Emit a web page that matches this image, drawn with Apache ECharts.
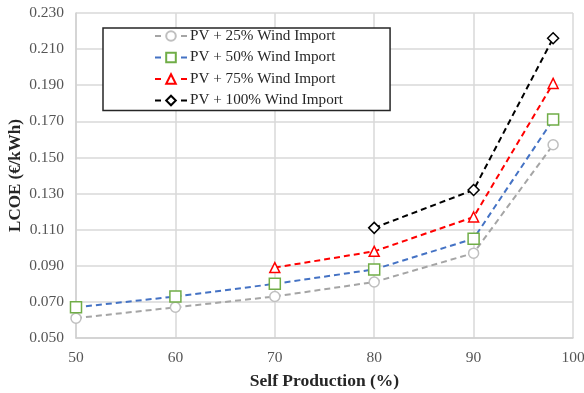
<!DOCTYPE html>
<html>
<head>
<meta charset="utf-8">
<script src="https://cdn.jsdelivr.net/npm/echarts@6/dist/echarts.min.js"></script>
<style>
  html, body { margin: 0; padding: 0; background: #fff; }
  #chart { width: 584px; height: 393px; }
</style>
</head>
<body>
<div id="chart"></div>
<script>
// Self production share (%) for each scenario
const xPV25 = [50, 60, 70, 80, 90, 98];
const xPV50 = [50, 60, 70, 80, 90, 98];
const xPV75 = [70, 80, 90, 98];
const xPV100 = [80, 90, 98];

// LCOE values (€/kWh)
const yPV25 = [0.061, 0.067, 0.073, 0.081, 0.097, 0.157];
const yPV50 = [0.067, 0.073, 0.080, 0.088, 0.105, 0.171];
const yPV75 = [0.089, 0.098, 0.117, 0.191];
const yPV100 = [0.111, 0.132, 0.216];

const seriesNames = [
  'PV + 25% Wind Import',
  'PV + 50% Wind Import',
  'PV + 75% Wind Import',
  'PV + 100% Wind Import'
];

const serif = '"Liberation Serif", "Times New Roman", serif';

function pairs(xs, ys) {
  return xs.map((x, i) => [x, ys[i]]);
}

function makeSeries(name, xs, ys, lineColor, markColor, symbol, size) {
  return {
    name: name,
    type: 'line',
    data: pairs(xs, ys),
    symbol: symbol,
    symbolSize: size,
    showAllSymbol: true,
    lineStyle: { color: lineColor, width: 2, type: [6, 4] },
    itemStyle: { color: '#fff', borderColor: markColor, borderWidth: 1.5 },
    emphasis: { disabled: true },
    animation: false
  };
}

const chart = echarts.init(document.getElementById('chart'));
chart.setOption({
  backgroundColor: '#fff',
  animation: false,
  grid: { left: 76, right: 11, top: 13, bottom: 55, containLabel: false, outerBoundsMode: 'none' },
  legend: {
    left: 103,
    top: 28,
    orient: 'vertical',
    data: seriesNames,
    itemWidth: 32,
    itemHeight: 12,
    itemGap: 5.5,
    padding: [0, 47, 2, 51],
    borderColor: '#262626',
    borderWidth: 1.5,
    backgroundColor: '#fff',
    // short dash on each side of the marker
    lineStyle: { type: [6, 20], width: 2 },
    textStyle: { fontFamily: serif, fontSize: 15.2, lineHeight: 16, color: '#262626', padding: [0, 0, 0, -2] }
  },
  xAxis: {
    type: 'value',
    min: 50,
    max: 100,
    interval: 10,
    name: 'Self Production (%)',
    nameLocation: 'middle',
    nameGap: 34,
    nameMoveOverlap: false,
    nameTextStyle: { fontFamily: serif, fontSize: 17.5, fontWeight: 'bold', color: '#262626' },
    axisLine: { show: true, lineStyle: { color: '#d0d0d0', width: 1.5 } },
    axisTick: { show: false },
    axisLabel: { fontFamily: serif, fontSize: 15.5, color: '#555', margin: 12 },
    splitLine: { show: true, lineStyle: { color: '#d9d9d9', width: 1.5 } }
  },
  yAxis: {
    type: 'value',
    min: 0.05,
    max: 0.23,
    interval: 0.02,
    name: 'LCOE (€/kWh)',
    nameLocation: 'middle',
    nameGap: 52,
    nameMoveOverlap: false,
    nameTextStyle: { fontFamily: serif, fontSize: 17, fontWeight: 'bold', color: '#262626' },
    axisLine: { show: true, lineStyle: { color: '#d0d0d0', width: 1.5 } },
    axisTick: { show: false },
    axisLabel: {
      fontFamily: serif, fontSize: 15.5, color: '#555', margin: 12,
      formatter: v => v.toFixed(3)
    },
    splitLine: { show: true, lineStyle: { color: '#d9d9d9', width: 1.5 } }
  },
  series: [
    makeSeries(seriesNames[0], xPV25, yPV25, '#a5a5a5', '#bfbfbf', 'circle', 10),
    makeSeries(seriesNames[1], xPV50, yPV50, '#4472c4', '#70ad47', 'rect', 11),
    makeSeries(seriesNames[2], xPV75, yPV75, '#ff0000', '#ff0000', 'triangle', 10),
    makeSeries(seriesNames[3], xPV100, yPV100, '#000000', '#000000', 'diamond', 11)
  ]
});
</script>
</body>
</html>
